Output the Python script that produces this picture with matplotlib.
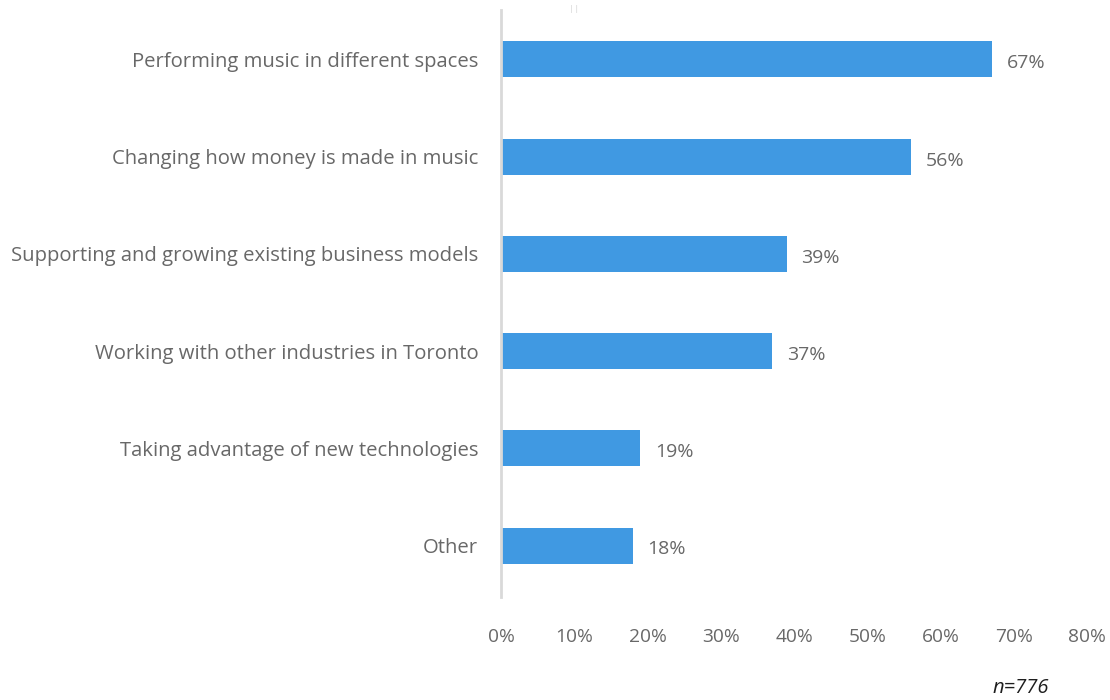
import matplotlib
matplotlib.use("Agg")
import matplotlib.pyplot as plt
from matplotlib.ticker import FuncFormatter

categories = [
    "Performing music in different spaces",
    "Changing how money is made in music",
    "Supporting and growing existing business models",
    "Working with other industries in Toronto",
    "Taking advantage of new technologies",
    "Other",
]
shares = [67, 56, 39, 37, 19, 18]
x_ticks = [0, 10, 20, 30, 40, 50, 60, 70, 80]
sample_note = "n=776"

BAR_COLOR = "#4099E2"
TEXT_COLOR = "#686868"

plt.rcParams["font.family"] = ["Open Sans", "DejaVu Sans"]

fig = plt.figure(figsize=(11.1, 7), dpi=100)
ax = fig.add_axes([0.4514, 0.147, 0.528, 0.839])

ypos = list(range(len(categories)))
ax.barh(ypos, shares, height=0.37, color=BAR_COLOR, zorder=2)

for y, v in zip(ypos, shares):
    ax.text(v + 2.0, y + 0.04, f"{v}%", va="center", ha="left",
            fontsize=14, color=TEXT_COLOR)

ax.set_xlim(0, 80)
ax.set_ylim(len(categories) - 0.47, -0.51)
ax.set_xticks(x_ticks)
ax.xaxis.set_major_formatter(FuncFormatter(lambda v, _: f"{v:.0f}%"))
ax.set_yticks(ypos)
ax.set_yticklabels(categories)

ax.tick_params(axis="x", length=0, pad=22, labelsize=13.8, labelcolor=TEXT_COLOR)
ax.tick_params(axis="y", length=0, pad=16.5, labelsize=14.6, labelcolor=TEXT_COLOR)

for side in ("top", "right", "bottom"):
    ax.spines[side].set_visible(False)
ax.spines["left"].set_color("#D9D9D9")
ax.spines["left"].set_linewidth(2)

fig.text(0.517, 0.993, "I I", color="#DDDDDD", fontsize=7, ha="center", va="top")
fig.text(0.92, 0.017, sample_note, style="italic", fontsize=14.5,
         color="#1E1E1E", ha="center", va="center")

fig.savefig("out.png", dpi=100)
